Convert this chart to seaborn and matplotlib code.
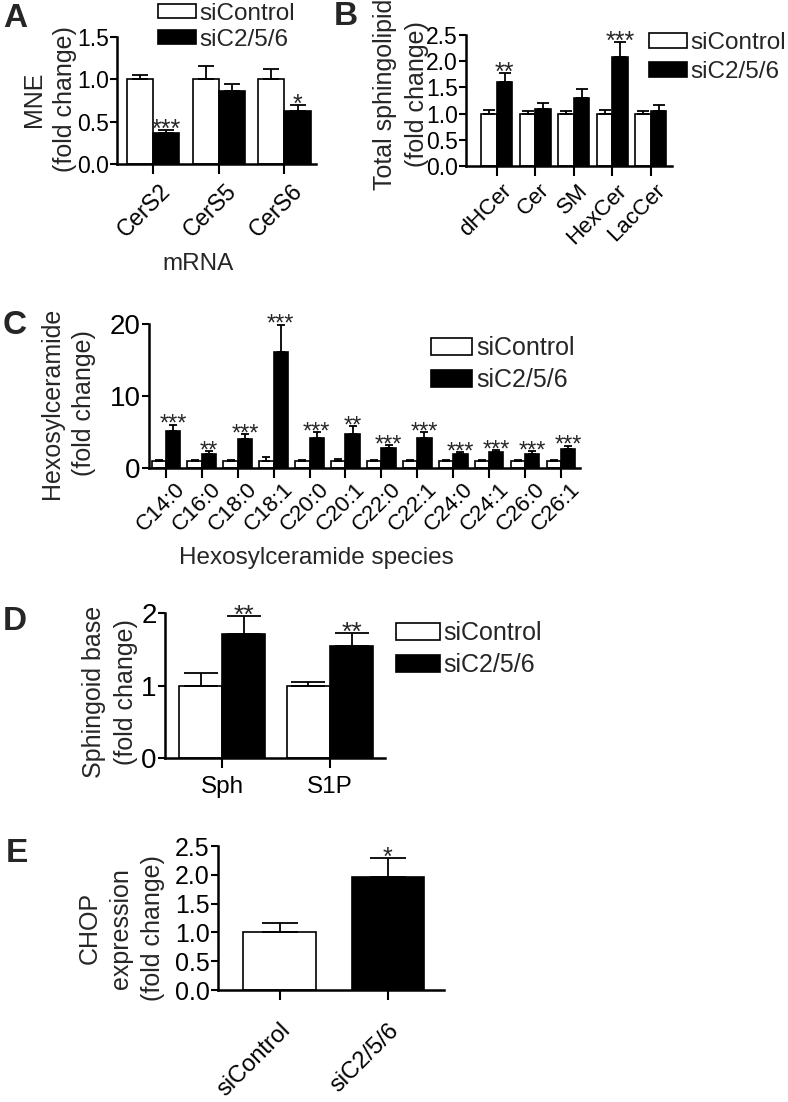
import pandas as pd
import matplotlib
matplotlib.use("Agg")
import matplotlib.pyplot as plt
from matplotlib.patches import Patch
from matplotlib.ticker import FormatStrFormatter
from matplotlib.transforms import ScaledTranslation
import seaborn as sns

#===============================================================
#     CERAMIDE SYNTHASE KNOCKDOWN - FIVE PANEL BAR FIGURE
#===============================================================

# ---- data (mean and SEM) ----
groups = ["siControl", "siC2/5/6"]

mrna_genes = ["CerS2", "CerS5", "CerS6"]
mrna_ctrl = [1.0, 1.0, 1.0]
mrna_ctrl_sem = [0.05, 0.16, 0.12]
mrna_kd = [0.37, 0.86, 0.63]
mrna_kd_sem = [0.03, 0.08, 0.07]
mrna_stars = ["***", "", "*"]

lipid_classes = ["dHCer", "Cer", "SM", "HexCer", "LacCer"]
lipid_ctrl = [1.0, 1.0, 1.0, 1.0, 1.0]
lipid_ctrl_sem = [0.06, 0.05, 0.05, 0.07, 0.05]
lipid_kd = [1.61, 1.09, 1.29, 2.08, 1.05]
lipid_kd_sem = [0.16, 0.12, 0.17, 0.29, 0.11]
lipid_stars = ["**", "", "", "***", ""]

hexcer_species = ["C14:0", "C16:0", "C18:0", "C18:1", "C20:0", "C20:1",
                  "C22:0", "C22:1", "C24:0", "C24:1", "C26:0", "C26:1"]
hexcer_ctrl = [1.0] * 12
hexcer_ctrl_sem = [0.05, 0.05, 0.05, 0.5, 0.05, 0.2, 0.05, 0.05, 0.05, 0.05, 0.05, 0.05]
hexcer_kd = [5.1, 2.0, 4.0, 16.1, 4.2, 4.7, 2.8, 4.1, 2.0, 2.2, 2.0, 2.7]
hexcer_kd_sem = [0.9, 0.3, 0.7, 3.8, 0.8, 1.1, 0.4, 0.9, 0.2, 0.3, 0.3, 0.4]
hexcer_stars = ["***", "**", "***", "***", "***", "**", "***", "***", "***", "***", "***", "***"]

base_species = ["Sph", "S1P"]
base_ctrl = [1.0, 1.0]
base_ctrl_sem = [0.17, 0.05]
base_kd = [1.71, 1.54]
base_kd_sem = [0.25, 0.19]
base_stars = ["**", "**"]

chop_values = [1.0, 1.96]
chop_sem = [0.17, 0.33]
chop_stars = ["", "*"]

# ---- style ----
sns.set_style("ticks")
plt.rcParams["font.family"] = ["Liberation Sans", "DejaVu Sans"]
plt.rcParams["axes.edgecolor"] = "black"
plt.rcParams["xtick.color"] = "black"
plt.rcParams["ytick.color"] = "black"

palette = {"siControl": "white", "siC2/5/6": "black"}
W, H = 788, 1102
fig = plt.figure(figsize=(W / 100, H / 100), dpi=100)


def px_axes(left, top, right, bottom):
    return fig.add_axes([left / W, 1 - bottom / H, (right - left) / W, (bottom - top) / H])


def add_errors(ax, sems, stars, capsize, star_size):
    bars = [bar for cont in ax.containers for bar in cont]
    for bar, sem, star in zip(bars, sems, stars):
        x = bar.get_x() + bar.get_width() / 2
        h = bar.get_height()
        ax.errorbar(x, h, yerr=[[0], [sem]], fmt="none", ecolor="black",
                    elinewidth=1.3, capsize=capsize, capthick=1.3, zorder=3)
        if star:
            ax.annotate(star, (x, h + sem), xytext=(0, 3 - 0.44 * star_size),
                        textcoords="offset points", ha="center", va="baseline",
                        fontsize=star_size, annotation_clip=False)


def grouped_bars(ax, cats, ctrl, ctrl_sem, kd, kd_sem, stars, capsize, star_size):
    df = pd.DataFrame({
        "category": cats * 2,
        "group": [groups[0]] * len(cats) + [groups[1]] * len(cats),
        "value": ctrl + kd,
    })
    sns.barplot(data=df, x="category", y="value", hue="group", hue_order=groups,
                palette=palette, edgecolor="black", linewidth=1.2, errorbar=None,
                legend=False, width=0.8, ax=ax)
    add_errors(ax, ctrl_sem + kd_sem, [""] * len(cats) + stars, capsize, star_size)


def style_axis(ax, ylim, yticks, xlim, ysize, xsize, xrot, xpad, fmt, dx=0):
    ax.set_ylim(*ylim)
    ax.set_xlim(*xlim)
    ax.set_yticks(yticks)
    ax.yaxis.set_major_formatter(FormatStrFormatter(fmt))
    ax.set_xlabel("")
    ax.set_ylabel("")
    sns.despine(ax=ax)
    ax.spines["left"].set_linewidth(1.8)
    ax.spines["bottom"].set_linewidth(1.8)
    ax.tick_params(axis="y", length=5, width=1.5, pad=1, labelsize=ysize)
    ax.tick_params(axis="x", length=7, width=1.5, pad=xpad, labelsize=xsize)
    if xrot:
        for lbl in ax.get_xticklabels():
            lbl.set_rotation(45)
            lbl.set_ha("right")
            lbl.set_va("top")
            lbl.set_rotation_mode("anchor")
            if dx:
                lbl.set_transform(lbl.get_transform() + ScaledTranslation(dx / 100, 0, fig.dpi_scale_trans))


def set_ylabel(ax, text, x, y, size):
    ax.set_ylabel(text, fontsize=size, linespacing=1.4)
    ax.yaxis.set_label_coords(x, y)


def add_legend(ax, x, y, size, hl, hh, spacing):
    handles = [Patch(facecolor=palette[g], edgecolor="black", linewidth=1.2) for g in groups]
    ax.legend(handles, groups, loc="upper left", bbox_to_anchor=(x / W, 1 - y / H),
              bbox_transform=fig.transFigure, frameon=False, fontsize=size,
              handlelength=hl, handleheight=hh, handletextpad=0.15,
              labelspacing=spacing, borderpad=0, borderaxespad=0)


# ---- panel A: mRNA ----
axA = px_axes(117, 37, 316, 164)
grouped_bars(axA, mrna_genes, mrna_ctrl, mrna_ctrl_sem, mrna_kd, mrna_kd_sem, mrna_stars, 6, 18)
style_axis(axA, (0, 1.5), [0, 0.5, 1.0, 1.5], (-0.55, 2.48), 16.5, 16.5, True, 4, "%.1f", dx=6)
set_ylabel(axA, "MNE\n(fold change)", -0.20, 0.51, 18)
axA.set_xlabel("mRNA", fontsize=17.5)
axA.xaxis.set_label_coords((198 - 117) / 199, -0.70)
add_legend(axA, 158, 3, 17.5, 1.55, 0.5, 0.16)

# ---- panel B: total sphingolipids ----
axB = px_axes(466, 35, 672, 166)
grouped_bars(axB, lipid_classes, lipid_ctrl, lipid_ctrl_sem, lipid_kd, lipid_kd_sem, lipid_stars, 4.5, 18)
style_axis(axB, (0, 2.5), [0, 0.5, 1.0, 1.5, 2.0, 2.5], (-0.8, 4.55), 16.5, 16, True, 3, "%.1f", dx=4)
set_ylabel(axB, "Total sphingolipid\n(fold change)", -0.18, 0.55, 18)
add_legend(axB, 649, 32, 17.5, 1.55, 0.55, 0.3)

# ---- panel C: hexosylceramide species ----
axC = px_axes(149, 324, 580, 468)
grouped_bars(axC, hexcer_species, hexcer_ctrl, hexcer_ctrl_sem, hexcer_kd, hexcer_kd_sem, hexcer_stars, 3, 17)
style_axis(axC, (0, 20), [0, 10, 20], (-0.47, 11.53), 20, 16, True, 1, "%d", dx=9)
set_ylabel(axC, "Hexosylceramide\n(fold change)", -0.123, 0.45, 18)
axC.set_xlabel("Hexosylceramide species", fontsize=17.5)
axC.xaxis.set_label_coords((316 - 149) / 431, -0.55)
add_legend(axC, 431, 336, 18, 1.65, 0.65, 0.32)

# ---- panel D: sphingoid bases ----
axD = px_axes(165, 613, 385, 758)
grouped_bars(axD, base_species, base_ctrl, base_ctrl_sem, base_kd, base_kd_sem, base_stars, 12, 19)
style_axis(axD, (0, 2), [0, 1, 2], (-0.53, 1.51), 20, 17.5, False, 6, "%d")
set_ylabel(axD, "Sphingoid base\n(fold change)", -0.123, 0.455, 18)
add_legend(axD, 396, 621, 18, 1.75, 0.7, 0.33)

# ---- panel E: CHOP expression ----
axE = px_axes(218, 846, 444, 990)
chop_df = pd.DataFrame({"condition": groups, "value": chop_values})
sns.barplot(data=chop_df, x="condition", y="value", hue="condition", palette=palette,
            edgecolor="black", linewidth=1.2, errorbar=None, legend=False, width=0.67, ax=axE)
add_errors(axE, chop_sem, chop_stars, 13, 18)
style_axis(axE, (0, 2.5), [0, 0.5, 1.0, 1.5, 2.0, 2.5], (-0.57, 1.52), 18, 17, True, 14, "%.1f")
set_ylabel(axE, "CHOP\nexpression\n(fold change)", -0.235, 0.43, 18)

# ---- panel letters ----
for letter, x, y in [("A", 3, 3), ("B", 334, 1), ("C", 3, 310), ("D", 3, 606), ("E", 6, 838)]:
    fig.text(x / W, 1 - y / H, letter, fontsize=24, fontweight="bold", ha="left", va="top")

fig.savefig("out.png", dpi=100)
